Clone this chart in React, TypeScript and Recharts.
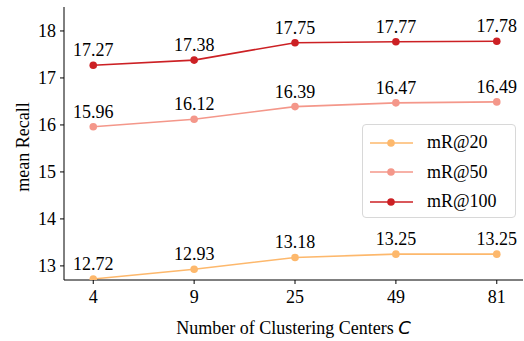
import React from "react";
import { LineChart, Line, XAxis, YAxis, LabelList } from "recharts";

const categories = ["4", "9", "25", "49", "81"];
const mR20 = [12.72, 12.93, 13.18, 13.25, 13.25];
const mR50 = [15.96, 16.12, 16.39, 16.47, 16.49];
const mR100 = [17.27, 17.38, 17.75, 17.77, 17.78];
const yTicks = [13, 14, 15, 16, 17, 18];

const series = [
  { key: "mR20", name: "mR@20", color: "#fdb86c", values: mR20 },
  { key: "mR50", name: "mR@50", color: "#f4978a", values: mR50 },
  { key: "mR100", name: "mR@100", color: "#cc2024", values: mR100 },
];

const data = categories.map((c, i) => ({
  idx: i,
  cat: c,
  mR20: mR20[i],
  mR50: mR50[i],
  mR100: mR100[i],
}));

const FONT = "'Liberation Serif', 'Times New Roman', serif";

const XTick = (props: any) => {
  const { x, y, payload } = props;
  return (
    <text x={x} y={y + 17} textAnchor="middle" fill="#000" fontSize={18} fontFamily={FONT}>
      {categories[payload.value]}
    </text>
  );
};

const YTick = (props: any) => {
  const { x, y, payload } = props;
  return (
    <text x={x - 2} y={y + 6} textAnchor="end" fill="#000" fontSize={18} fontFamily={FONT}>
      {payload.value}
    </text>
  );
};

const ValueLabel = (props: any) => {
  const { x, y, value } = props;
  return (
    <text x={x} y={y - 9} textAnchor="middle" fill="#000" fontSize={18} fontFamily={FONT}>
      {Number(value).toFixed(2)}
    </text>
  );
};

const LegendBox = () => (
  <div
    style={{
      position: "absolute",
      left: 362,
      top: 124,
      width: 154,
      height: 94,
      border: "1px solid #d8d8d8",
      borderRadius: 4,
      background: "rgba(255,255,255,0.85)",
      fontFamily: FONT,
      fontSize: 18,
      color: "#000",
      boxSizing: "border-box",
      paddingTop: 3,
    }}
  >
    {series.map((s) => (
      <div key={s.key} style={{ display: "flex", alignItems: "center", height: 29.5 }}>
        <svg width={58} height={14} style={{ marginLeft: 6 }}>
          <line x1={1} y1={7} x2={44} y2={7} stroke={s.color} strokeWidth={1.6} />
          <circle cx={22} cy={7} r={3.8} fill={s.color} />
        </svg>
        <span style={{ fontFamily: FONT }}>{s.name}</span>
      </div>
    ))}
  </div>
);

export default function App() {
  return (
    <div style={{ position: "absolute", left: 0, top: 0, width: 524, height: 341, background: "#fff", fontFamily: FONT }}>
      <LineChart
        width={524}
        height={341}
        data={data}
        margin={{ top: 7, right: 1, bottom: 6, left: 0 }}
      >
        <XAxis
          dataKey="idx"
          type="number"
          domain={[-0.29, 4.26]}
          ticks={[0, 1, 2, 3, 4]}
          allowDataOverflow
          height={55}
          stroke="#000"
          tickSize={4}
          tick={<XTick />}
          label={{
            value: "Number of Clustering Centers",
            content: (props: any) => {
              const vb = props.viewBox;
              const cx = vb.x + vb.width / 2;
              return (
                <text x={cx} y={334} textAnchor="middle" fill="#000" fontSize={18} fontFamily={FONT}>
                  Number of Clustering Centers{" "}
                  <tspan fontFamily="'DejaVu Sans', sans-serif" fontStyle="italic">C</tspan>
                </text>
              );
            },
          }}
        />
        <XAxis
          xAxisId="top"
          orientation="top"
          dataKey="idx"
          type="number"
          domain={[-0.29, 4.26]}
          height={0}
          tick={false}
          tickLine={false}
          stroke="#000"
        />
        <YAxis
          type="number"
          domain={[12.7, 18.51]}
          ticks={yTicks}
          allowDataOverflow
          width={64}
          stroke="#000"
          tickSize={4}
          tick={<YTick />}
          label={{
            value: "mean Recall",
            content: () => (
              <text
                x={29}
                y={147}
                transform="rotate(-90 29 147)"
                textAnchor="middle"
                fill="#000"
                fontSize={18}
                fontFamily={FONT}
              >
                mean Recall
              </text>
            ),
          }}
        />
        <YAxis
          yAxisId="right"
          orientation="right"
          domain={[12.7, 18.51]}
          width={0}
          tick={false}
          tickLine={false}
          stroke="#000"
        />
        {series.map((s) => (
          <Line
            key={s.key}
            dataKey={s.key}
            name={s.name}
            stroke={s.color}
            strokeWidth={1.6}
            dot={{ r: 3.8, fill: s.color, stroke: s.color, strokeWidth: 0 }}
            activeDot={false}
            isAnimationActive={false}
          >
            <LabelList dataKey={s.key} content={<ValueLabel />} />
          </Line>
        ))}
      </LineChart>
      <LegendBox />
    </div>
  );
}
